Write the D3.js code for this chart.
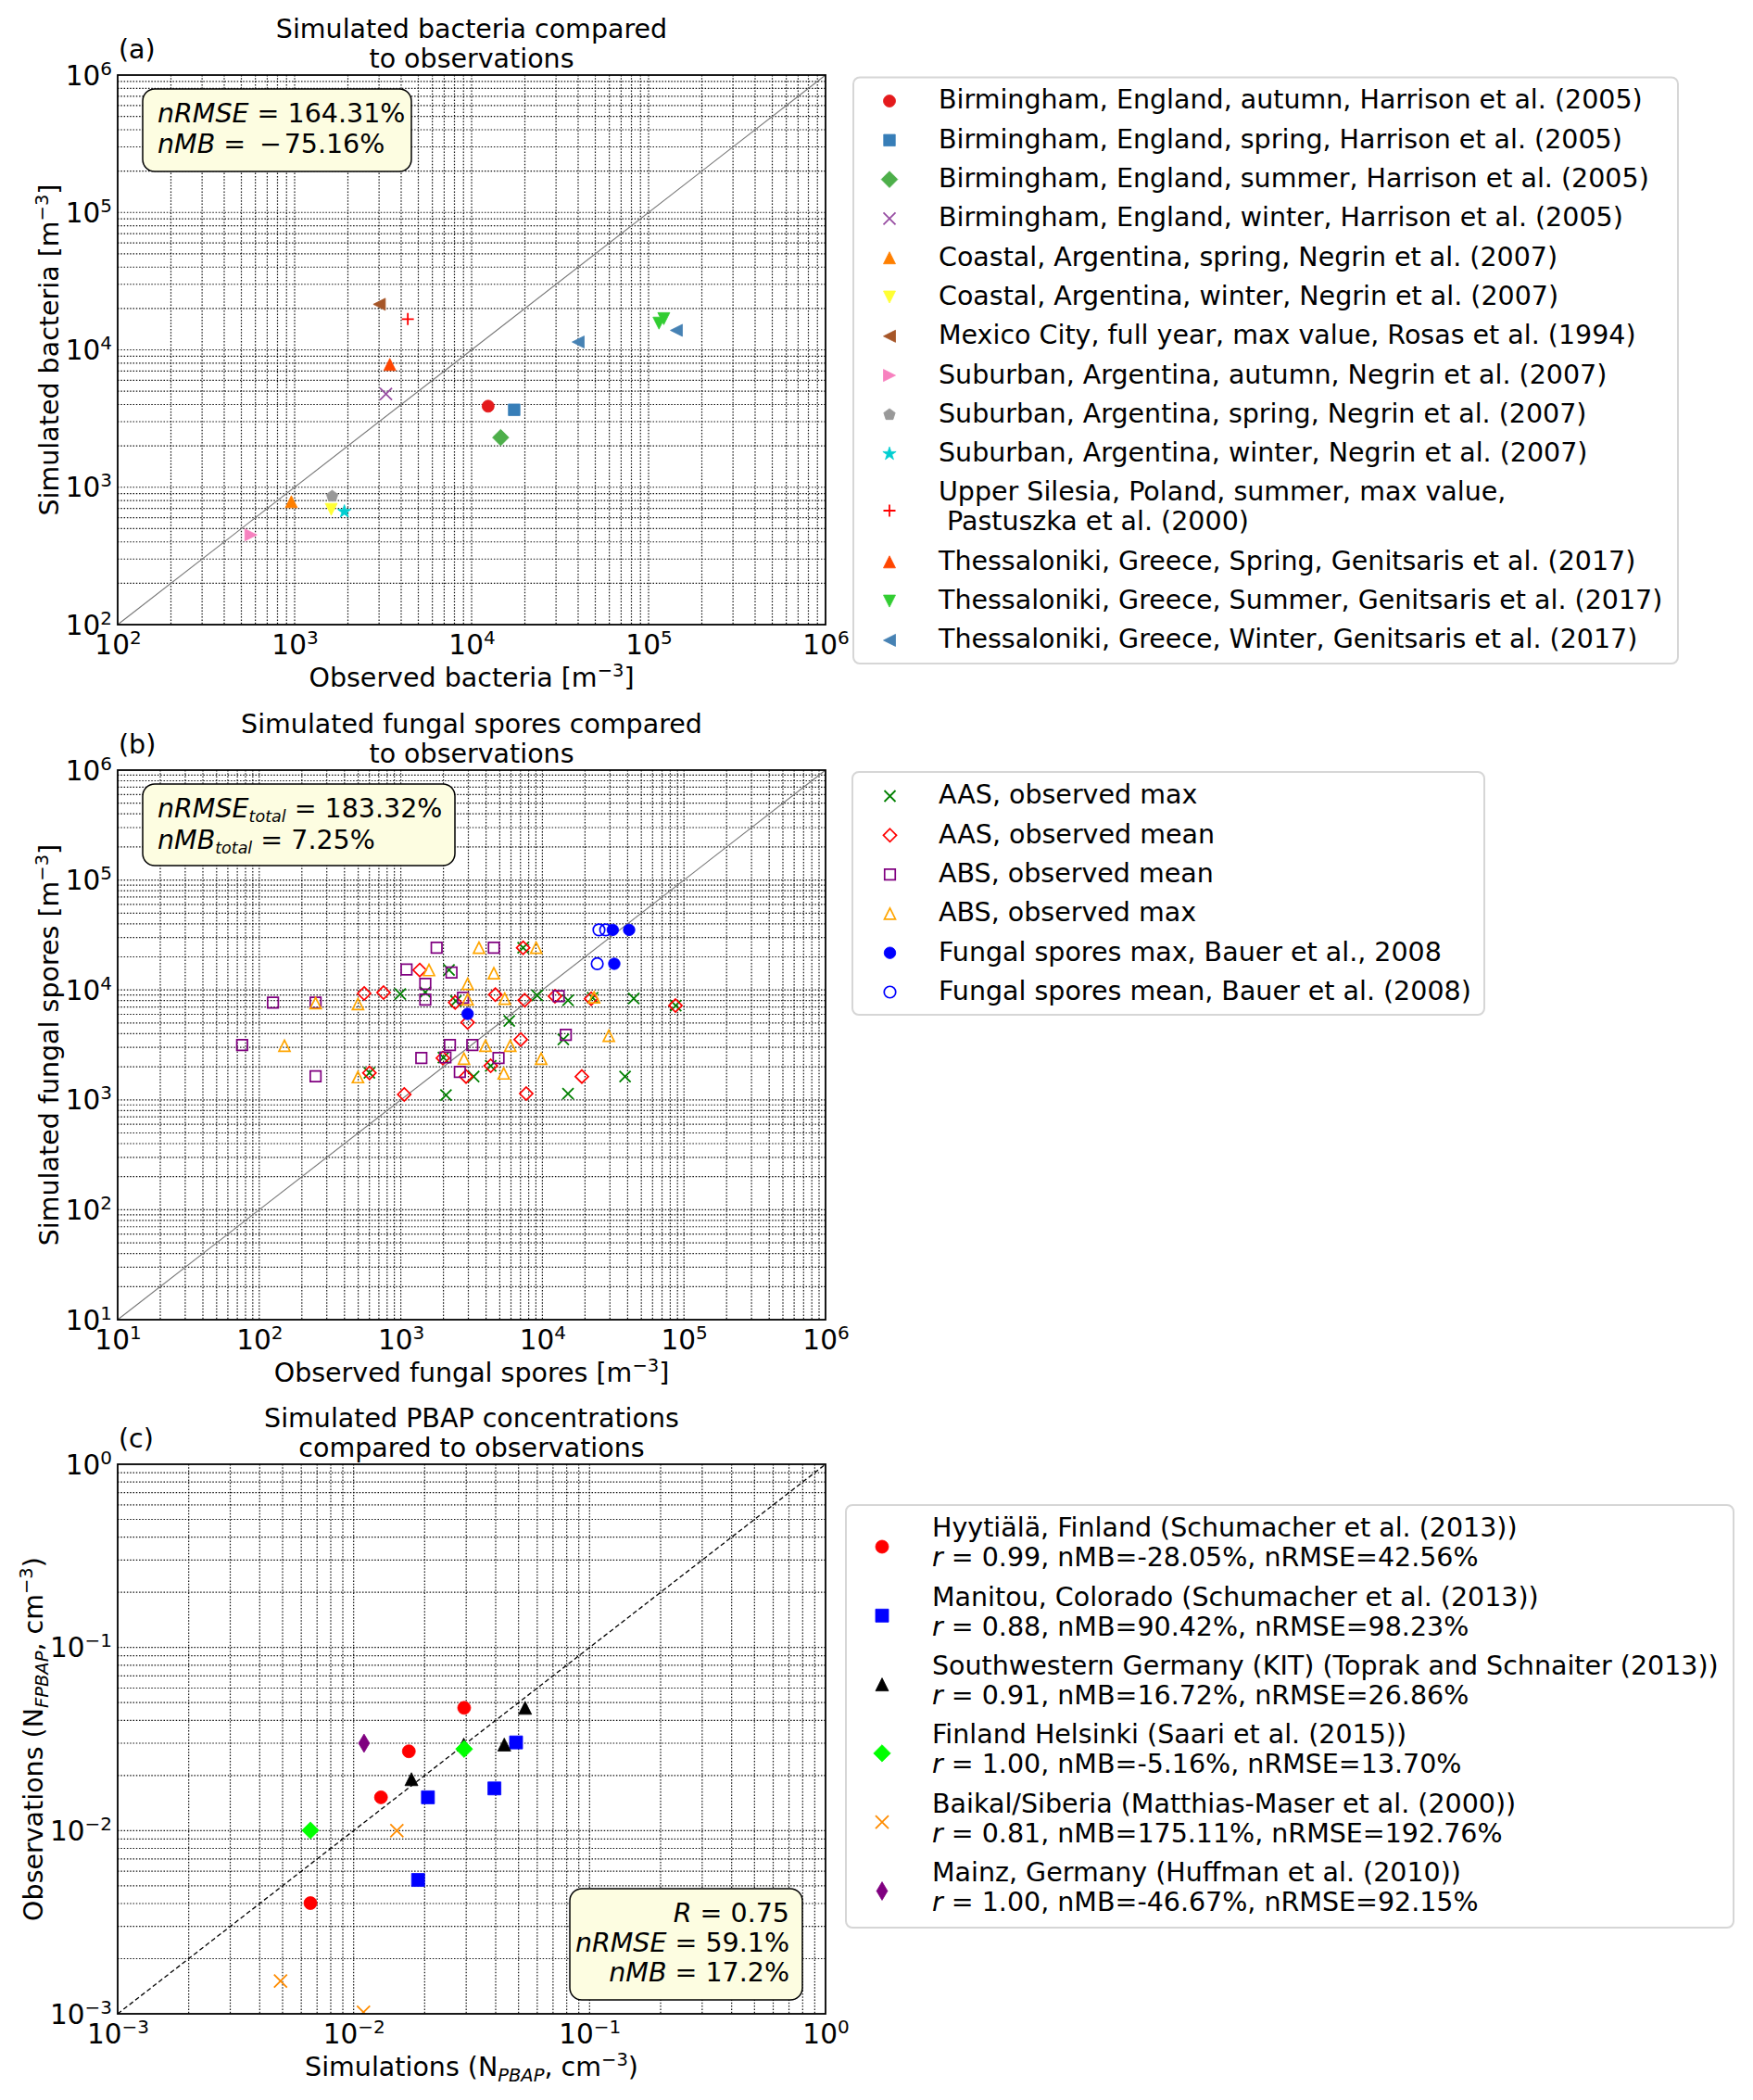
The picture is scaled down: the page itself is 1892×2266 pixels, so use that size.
<!DOCTYPE html>
<html><head><meta charset="utf-8">
<script src="https://cdn.jsdelivr.net/npm/d3@7"></script>
<style>body{margin:0;background:#fff} svg text{font-family:"DejaVu Sans",sans-serif;white-space:pre}</style>
</head><body><svg id="c" width="1892" height="2266"></svg>
<script>
// ---------------- DATA ----------------
// Panel (a): bacteria
const bacteriaLabels = [
  ["Birmingham, England, autumn, Harrison et al. (2005)"],
  ["Birmingham, England, spring, Harrison et al. (2005)"],
  ["Birmingham, England, summer, Harrison et al. (2005)"],
  ["Birmingham, England, winter, Harrison et al. (2005)"],
  ["Coastal, Argentina, spring, Negrin et al. (2007)"],
  ["Coastal, Argentina, winter, Negrin et al. (2007)"],
  ["Mexico City, full year, max value, Rosas et al. (1994)"],
  ["Suburban, Argentina, autumn, Negrin et al. (2007)"],
  ["Suburban, Argentina, spring, Negrin et al. (2007)"],
  ["Suburban, Argentina, winter, Negrin et al. (2007)"],
  ["Upper Silesia, Poland, summer, max value,", " Pastuszka et al. (2000)"],
  ["Thessaloniki, Greece, Spring, Genitsaris et al. (2017)"],
  ["Thessaloniki, Greece, Summer, Genitsaris et al. (2017)"],
  ["Thessaloniki, Greece, Winter, Genitsaris et al. (2017)"]
];
const bacteriaObs = [[12400],[17400],[14600],[3280],[958],[1610],[3010],[566],[1630],[1910],[4360],[3450],[121900,114500],[40000,143600]];
const bacteriaSim = [[3890],[3660],[2300],[4770],[785],[690],[21450],[450],[860],[665],[16740],[7830],[16860,15640],[11400,13870]];

// Panel (b): fungal spores
const fungalLabels = [
  ["AAS, observed max"],
  ["AAS, observed mean"],
  ["ABS, observed mean"],
  ["ABS, observed max"],
  ["Fungal spores max, Bauer et al., 2008"],
  ["Fungal spores mean, Bauer et al. (2008)"]
];
const fungalObs = [
  [2190,991,1489,2449,600,2000,2084,7310,9190,15170,44200,22650,87500,5835,14060,4315,3270,38370,15170],
  [1360,551,755,2420,600,1982,1057,7310,4650,7500,12270,22100,87100,2965,7030,4315,2890,19000,7690],
  [1791,1097,2280,1489,1489,125,250,75.7,2222,1396,2066,250,2612,4540,2750,13030,3200,14630,4900],
  [1581,250,498,150.7,498,3565,9040,4540,2965,2965,5420,23200,29440,3964,5930,2792,9800,5335],
  [31400,41000,32200,2965],
  [25100,28000,24400]
];
const fungalSim = [
  [15170,9160,9530,7940,1760,2430,1104,24200,8930,8060,8380,8500,7210,5230,3540,2040,1630,1630,1140],
  [15170,9290,9460,7700,1760,2400,1120,24200,9060,8060,8770,8320,7210,5060,3540,2040,1630,1630,1140],
  [24200,15380,14420,11350,8160,7660,7660,3150,3150,2400,2432,1640,1795,24200,8480,8770,3150,3900,2400],
  [15170,7600,7460,3110,1610,24200,24200,14220,11350,8220,8320,8590,3830,3110,3110,2370,2370,1740],
  [35200,35200,17300,6050],
  [35200,35200,17300]
];

// Panel (c): PBAP
const pbapSites = [
  "Hyytiälä, Finland (Schumacher et al. (2013))",
  "Manitou, Colorado (Schumacher et al. (2013))",
  "Southwestern Germany (KIT) (Toprak and Schnaiter (2013))",
  "Finland Helsinki (Saari et al. (2015))",
  "Baikal/Siberia (Matthias-Maser et al. (2000))",
  "Mainz, Germany (Huffman et al. (2010))"
];
const pbapR = ["0.99","0.88","0.91","1.00","0.81","1.00"];
const pbapNMB = ["-28.05","90.42","16.72","-5.16","175.11","-46.67"];
const pbapNRMSE = ["42.56","98.23","26.86","13.70","192.76","92.15"];
const pbapSim = [
  [0.0294,0.01714,0.01306,0.00656],
  [0.0488,0.0395,0.02065,0.01876],
  [0.0533,0.0435,0.01758,0.0293],
  [0.0294,0.00656],
  [0.01525,0.0049,0.01101],
  [0.01107]
];
const pbapObs = [
  [0.0468,0.0271,0.0152,0.00402],
  [0.0303,0.0170,0.0152,0.00538],
  [0.0468,0.0295,0.0191,0.0295],
  [0.0279,0.01003],
  [0.0100,0.00151,0.00102],
  [0.030]
];

// ---------------- STYLES ----------------
const bacteriaStyle = [
  {shape:"circle",color:"#e41a1c",size:13},
  {shape:"square",color:"#377eb8",size:12.5},
  {shape:"diamond",color:"#4daf4a",size:12.5},
  {shape:"x",color:"#984ea3",size:13},
  {shape:"triUp",color:"#ff7f00",size:13},
  {shape:"triDown",color:"#ffff33",size:13},
  {shape:"triLeft",color:"#a65628",size:13},
  {shape:"triRight",color:"#f781bf",size:13},
  {shape:"pentagon",color:"#999999",size:13},
  {shape:"star",color:"#00ced1",size:15},
  {shape:"plus",color:"red",size:13},
  {shape:"triUp",color:"orangered",size:13},
  {shape:"triDown",color:"limegreen",size:13},
  {shape:"triLeft",color:"steelblue",size:13}
];
const fungalStyle = [
  {shape:"x",color:"green",size:12},
  {shape:"diamond",color:"red",size:10,open:true},
  {shape:"square",color:"purple",size:11.5,open:true},
  {shape:"triUp",color:"orange",size:12,open:true},
  {shape:"circle",color:"blue",size:12.5},
  {shape:"circle",color:"blue",size:12.5,open:true}
];
const pbapStyle = [
  {shape:"circle",color:"red",size:14},
  {shape:"square",color:"blue",size:14},
  {shape:"triUp",color:"black",size:14},
  {shape:"diamond",color:"lime",size:13},
  {shape:"x",color:"darkorange",size:14},
  {shape:"thinDiamond",color:"purple",size:14}
];

// ---------------- HELPERS ----------------
const FONT = "DejaVu Sans, sans-serif";
const FS = 28.5;
const L = 127, R = 891, H = 593;
const svg = d3.select("#c");
svg.append("rect").attr("width",1892).attr("height",2266).attr("fill","#fff");

function markerPath(shape, m){
  const h = m/2;
  switch(shape){
    case "circle": return `M${-h},0A${h},${h} 0 1,0 ${h},0A${h},${h} 0 1,0 ${-h},0Z`;
    case "square": return `M${-h},${-h}h${m}v${m}h${-m}Z`;
    case "diamond": { const d = m/Math.SQRT2; return `M0,${-d}L${d},0L0,${d}L${-d},0Z`; }
    case "thinDiamond": { const d = m/Math.SQRT2, w = 0.6*d; return `M0,${-d}L${w},0L0,${d}L${-w},0Z`; }
    case "triUp": return `M0,${-h}L${h},${h}L${-h},${h}Z`;
    case "triDown": return `M0,${h}L${h},${-h}L${-h},${-h}Z`;
    case "triLeft": return `M${-h},0L${h},${-h}L${h},${h}Z`;
    case "triRight": return `M${h},0L${-h},${-h}L${-h},${h}Z`;
    case "pentagon": { let p=[]; for(let i=0;i<5;i++){const a=-Math.PI/2+i*2*Math.PI/5; p.push([h*Math.cos(a),h*Math.sin(a)]);} return "M"+p.map(q=>q.join(",")).join("L")+"Z"; }
    case "star": { let p=[]; for(let i=0;i<10;i++){const r=i%2?h*0.382:h; const a=-Math.PI/2+i*Math.PI/5; p.push([r*Math.cos(a),r*Math.sin(a)]);} return "M"+p.map(q=>q.join(",")).join("L")+"Z"; }
    case "x": return `M${-h},${-h}L${h},${h}M${-h},${h}L${h},${-h}`;
    case "plus": return `M${-h},0H${h}M0,${-h}V${h}`;
  }
}
function drawMarker(g, style, cx, cy){
  const line = style.shape==="x"||style.shape==="plus";
  const p = g.append("path").attr("d", markerPath(style.shape, style.size))
    .attr("transform", `translate(${cx},${cy})`);
  if (line) p.attr("fill","none").attr("stroke",style.color).attr("stroke-width",1.8);
  else if (style.open) p.attr("fill","none").attr("stroke",style.color).attr("stroke-width",1.7);
  else p.attr("fill",style.color).attr("stroke",style.color).attr("stroke-width",0.8);
}
function addRich(g, x, y, parts, opts={}){
  const t = g.append("text").attr("x",x).attr("y",y).attr("font-size",opts.fs||FS)
    .attr("text-anchor",opts.anchor||"start").attr("font-family",FONT).attr("fill","#000");
  if (opts.rotate) t.attr("transform",`rotate(-90,${x},${y})`);
  let shift = 0;
  parts.forEach(p=>{
    const s = t.append("tspan").text(p.t);
    const target = p.sup ? -p.sup : (p.sub ? p.sub : 0);
    const dy = target - shift; if (dy) s.attr("dy", dy); shift = target;
    if (p.it) s.attr("font-style","italic");
    if (p.sup || p.sub) s.attr("font-size", p.fs || 19.5);
  });
  return t;
}
function gridValues(dom){
  const lo = Math.round(Math.log10(dom[0])), hi = Math.round(Math.log10(dom[1]));
  const v = [];
  for (let e=lo;e<hi;e++) for (let k=1;k<=9;k++){ if(e===lo&&k===1) continue; v.push(k*Math.pow(10,e)); }
  return v;
}
function decades(dom){
  const lo = Math.round(Math.log10(dom[0])), hi = Math.round(Math.log10(dom[1]));
  return d3.range(lo,hi+1).map(e=>Math.pow(10,e));
}
const expStr = d => { const e = Math.round(Math.log10(d)); return e<0 ? "\u2212"+(-e) : ""+e; };

function drawPanel(p){
  const top = p.top, bottom = top + H;
  const g = svg.append("g");
  const x = d3.scaleLog().domain(p.dom).range([L,R]);
  const y = d3.scaleLog().domain(p.dom).range([bottom,top]);
  const gv = gridValues(p.dom);
  // grid
  g.append("g").selectAll("line").data(gv).join("line")
    .attr("x1",d=>x(d)).attr("x2",d=>x(d)).attr("y1",top).attr("y2",bottom)
    .attr("stroke","#111").attr("stroke-width",1.2).attr("stroke-dasharray","1.5,1.8");
  g.append("g").selectAll("line").data(gv).join("line")
    .attr("y1",d=>y(d)).attr("y2",d=>y(d)).attr("x1",L).attr("x2",R)
    .attr("stroke","#111").attr("stroke-width",1.2).attr("stroke-dasharray","1.5,1.8");
  // 1:1 line
  const diag = d3.line().x(d=>x(d)).y(d=>y(d));
  g.append("path").attr("d", diag(p.dom)).attr("fill","none")
    .attr("stroke", p.dashedDiag ? "#000" : "#777").attr("stroke-width", p.dashedDiag?1.3:1.1)
    .attr("stroke-dasharray", p.dashedDiag ? "5,3" : null);
  // markers
  const clipId = "clip"+p.key;
  svg.append("clipPath").attr("id",clipId).append("rect").attr("x",L).attr("y",top).attr("width",R-L).attr("height",H);
  const mg = g.append("g").attr("clip-path",`url(#${clipId})`);
  p.xs.forEach((arr,i)=>arr.forEach((v,j)=>drawMarker(mg, p.styles[i], x(v), y(p.ys[i][j]))));
  // frame
  g.append("rect").attr("x",L).attr("y",top).attr("width",R-L).attr("height",H)
    .attr("fill","none").attr("stroke","#000").attr("stroke-width",1.8);
  // axes
  const dec = decades(p.dom);
  const fmt = function(d){
    const t = d3.select(this); t.text(null).attr("font-size",29.5).attr("fill","#000").attr("font-family",FONT);
    t.append("tspan").text("10");
    t.append("tspan").attr("dy",-11).attr("font-size",20).text(expStr(d));
  };
  const ax = g.append("g").attr("transform",`translate(0,${bottom})`)
    .call(d3.axisBottom(x).tickValues(dec).tickSize(0).tickFormat(()=>""));
  ax.select(".domain").remove();
  ax.selectAll(".tick text").attr("y",32).attr("dy",null).each(fmt);
  const ay = g.append("g").attr("transform",`translate(${L},0)`)
    .call(d3.axisLeft(y).tickValues(dec).tickSize(0).tickFormat(()=>""));
  ay.select(".domain").remove();
  ay.selectAll(".tick text").attr("x",-6).attr("y",10).attr("dy",null).each(fmt);
  // titles & labels
  addRich(g, 509, top-40, [{t:p.title[0]}], {anchor:"middle"});
  addRich(g, 509, top-8.5, [{t:p.title[1]}], {anchor:"middle"});
  addRich(g, 128, top-18, [{t:p.tag}]);
  addRich(g, 509, bottom+66.5, p.xlabel, {anchor:"middle"});
  addRich(g, p.ylabelX, (top+bottom)/2, p.ylabel, {anchor:"middle", rotate:true});
  // stats box
  const b = p.box;
  g.append("rect").attr("x",b.x).attr("y",b.y).attr("width",b.w).attr("height",b.h)
    .attr("rx",13).attr("fill","#fdfde1").attr("stroke","#000").attr("stroke-width",1.5);
  b.lines.forEach((ln,i)=>addRich(g, b.tx, b.base[i], ln, {anchor:b.anchor||"start"}));
}

function drawLegend(box, labels, styles, start, textX, markerX){
  const g = svg.append("g");
  g.append("rect").attr("x",box.x).attr("y",box.y).attr("width",box.w).attr("height",box.h)
    .attr("rx",7).attr("fill","#fff").attr("stroke","#d6d6d6").attr("stroke-width",2);
  let yy = start;
  labels.forEach((lines,i)=>{
    const hgt = 42.3 + 32*(lines.length-1);
    const c = yy + hgt/2;
    lines.forEach((ln,j)=>{
      const lc = c - (lines.length-1)*16 + j*32;
      addRich(g, textX, lc+10.4, Array.isArray(ln)?ln:[{t:ln}]);
    });
    drawMarker(g, styles[i], markerX, c + (lines.length>1?5:2));
    yy += hgt;
  });
}

// ---------------- PANELS ----------------
const m3 = [{t:"\u22123",sup:11}];
drawPanel({
  key:"a", top:81, dom:[1e2,1e6], tag:"(a)",
  title:["Simulated bacteria compared","to observations"],
  xs:bacteriaObs, ys:bacteriaSim, styles:bacteriaStyle,
  xlabel:[{t:"Observed bacteria [m"},...m3,{t:"]"}],
  ylabel:[{t:"Simulated bacteria [m"},...m3,{t:"]"}], ylabelX:63,
  box:{x:154,y:96,w:290,h:89,tx:170,base:[132,165],
       lines:[[{t:"nRMSE",it:1},{t:" = 164.31%"}],[{t:"nMB",it:1},{t:" = \u2009\u2212\u200a75.16%"}]]}
});
drawPanel({
  key:"b", top:831, dom:[1e1,1e6], tag:"(b)",
  title:["Simulated fungal spores compared","to observations"],
  xs:fungalObs, ys:fungalSim, styles:fungalStyle,
  xlabel:[{t:"Observed fungal spores [m"},...m3,{t:"]"}],
  ylabel:[{t:"Simulated fungal spores [m"},...m3,{t:"]"}], ylabelX:63,
  box:{x:154,y:846,w:337,h:88,tx:170,base:[882,916],
       lines:[[{t:"nRMSE",it:1},{t:"total",it:1,sub:5,fs:17.5},{t:" = 183.32%"}],
              [{t:"nMB",it:1},{t:"total",it:1,sub:5,fs:17.5},{t:" = 7.25%"}]]}
});
drawPanel({
  key:"c", top:1580, dom:[1e-3,1e0], tag:"(c)", dashedDiag:true,
  title:["Simulated PBAP concentrations","compared to observations"],
  xs:pbapSim, ys:pbapObs, styles:pbapStyle,
  xlabel:[{t:"Simulations (N"},{t:"PBAP",it:1,sub:6},{t:", cm"},...m3,{t:")"}],
  ylabel:[{t:"Observations (N"},{t:"FPBAP",it:1,sub:6},{t:", cm"},...m3,{t:")"}], ylabelX:46,
  box:{x:615,y:2038,w:251,h:120,tx:852,anchor:"end",base:[2073.5,2106,2138],
       lines:[[{t:"R",it:1},{t:" = 0.75"}],[{t:"nRMSE",it:1},{t:" = 59.1%"}],[{t:"nMB",it:1},{t:" = 17.2%"}]]}
});

// ---------------- LEGENDS ----------------
drawLegend({x:921,y:83.5,w:890,h:632.5}, bacteriaLabels, bacteriaStyle, 85.85, 1013, 960);
drawLegend({x:920,y:833,w:682,h:262}, fungalLabels, fungalStyle, 835.85, 1013, 960.5);
const pbapLabels = pbapSites.map((s,i)=>[s, [{t:"r",it:1},{t:` = ${pbapR[i]}, nMB=${pbapNMB[i]}%, nRMSE=${pbapNRMSE[i]}%`}]]);
drawLegend({x:913,y:1624,w:958,h:456}, pbapLabels, pbapStyle, 1626.85, 1006, 952);
</script></body></html>
